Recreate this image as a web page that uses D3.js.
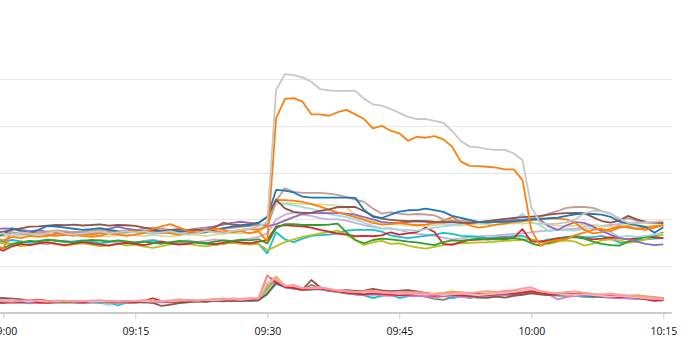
<!DOCTYPE html>
<html><head><meta charset="utf-8">
<script src="https://cdn.jsdelivr.net/npm/d3@7"></script>
<style>html,body{margin:0;padding:0;background:#fff;overflow:hidden}</style>
</head><body>
<svg id="chart" width="694" height="359"></svg>
<script>
// ---- data (one value per minute, 08:59 .. 10:15) ----
const firstMinute = "08:59";
const tickLabels = ["09:00","09:15","09:30","09:45","10:00","10:15"];
const gridValues = [20,40,60,80,100];

// upper group
const sBlue = [32.6,33.5,36.2,35.0,34.1,35.5,37.2,36.9,36.5,36.0,35.5,35.8,36.3,35.5,35.0,34.8,
 35.3,34.9,35.5,34.8,35.2,34.8,35.0,34.1,34.5,35.5,36.3,36.9,37.2,37.5,38.5,41.1,
 52.6,52.3,51.5,49.7,49.3,49.3,49.3,49.3,49.3,49.2,44.0,41.1,40.6,42.0,43.3,
 43.9,44.0,44.6,44.0,43.2,41.5,40.6,39.8,38.8,38.6,38.9,38.9,39.3,39.6,40.0,
 40.2,40.5,40.8,41.5,42.2,42.5,42.3,42.0,41.1,39.0,38.3,37.5,36.7,34.3,36.6];
const sOrangePeak = [32,31,32.5,32,33,32.5,33,34,33.5,33,34,33.5,34,34.5,34,35,
 35,34.5,36,37,38,36.5,35,34.5,35,36,35.5,34.5,35,34,35,30.5,
 83.2,91.5,91.8,90.3,84.9,84.9,84.3,85.8,86.8,84.9,82.9,78.9,80.0,77.9,76.8,
 73.6,75.3,74.9,75.6,74.2,71.1,64.7,62.9,62.8,62.5,62.1,61.4,61.4,56.8,35.5,
 28.8,30.5,31.2,31.6,33.3,34.3,35.5,36,35,36.5,37,36,35.5,36.5,37.6];
const sGrayPeak = [33.5,34.0,33.0,34.5,34.0,33.5,34.0,35.0,34.0,33.5,34.0,34.5,35.0,34.0,34.5,35.0,
 34.5,35.0,34.0,34.5,35.0,34.0,33.5,34.0,35.0,34.5,34.0,35.0,35.5,36.0,37.0,39.0,
 95.3,102.1,101.7,100.7,98.8,95.7,95.1,94.9,94.9,94.9,91.5,89.2,88.6,87.2,85.5,
 83.8,82.9,82.9,82.1,81.3,77.8,73.5,71.1,70.8,70.0,69.7,69.7,68.2,65.4,45.3,
 38.5,38.0,38.2,38.7,40.0,42.5,43.7,43.5,42.5,40.5,38.5,38.2,38.8,39.0,39.3];
const sOrange = [29.0,27.5,36.2,35.0,34.0,34.5,33.5,33.0,33.3,33.8,33.0,32.5,33.0,34.0,33.5,33.0,
 33.5,34.2,35.0,34.5,34.0,33.5,34.0,35.5,36.0,35.0,34.5,35.0,35.5,36.0,35.5,37.0,
 48.3,48.2,48.0,47.5,46.5,45.5,44.2,43.0,42.0,41.0,39.8,38.5,37.8,38.0,38.5,
 38.0,37.5,37.8,38.5,39.5,41.0,39.0,37.5,36.5,37.0,37.8,38.2,38.8,39.2,39.7,
 40.0,40.3,40.3,40.0,38.5,35.5,34.0,34.5,36.0,37.0,36.5,36.0,36.5,37.0,37.5];
const sGreen = [28.5,27.6,29.5,30.2,30.8,30.5,31.2,31.0,30.6,30.2,30.8,31.2,30.9,30.5,31.0,30.6,
 30.2,30.5,30.0,29.6,30.3,30.8,30.5,30.2,29.8,30.5,31.0,30.8,31.3,31.0,31.5,29.7,
 36.3,38.0,38.0,37.6,37.6,37.6,37.8,38.2,34.5,31.2,29.8,31.2,31.8,31.5,31.0,
 30.5,30.2,29.5,29.0,30.3,31.0,30.8,31.4,31.8,31.4,31.6,31.5,32.0,31.5,29.8,
 28.8,30.0,31.0,32.2,32.4,31.8,30.5,29.5,29.0,28.8,30.5,31.5,32.5,33.0,34.5];
const sRed = [28.0,26.6,28.5,29.5,29.0,29.8,30.2,29.5,29.0,29.6,30.3,29.8,29.2,28.8,29.5,30.0,
 29.5,29.0,29.8,30.5,29.8,29.2,29.6,30.3,29.9,29.4,30.0,30.6,30.2,29.8,30.5,31.0,
 37.0,37.6,37.2,37.0,36.5,35.5,34.8,33.9,33.5,32.8,33.0,32.8,33.2,34.5,33.5,
 34.0,34.6,36.5,34.6,29.5,29.1,30.3,31.2,31.4,31.6,31.8,32.0,32.0,35.8,30.5,
 30.5,31.0,31.8,32.3,32.5,32.0,31.5,31.8,32.3,32.0,31.5,32.0,32.8,32.3,32.0];
const sPurple = [35.5,36.2,36.0,35.5,35.0,35.3,34.8,34.5,34.2,34.6,34.0,34.3,35.0,36.0,36.9,36.0,
 35.5,35.0,34.8,34.3,34.8,35.2,35.5,36.0,36.5,37.0,37.8,38.5,39.0,38.5,38.0,37.0,
 38.0,39.5,41.0,42.3,42.7,42.7,42.7,42.7,42.5,42.0,41.0,40.0,38.9,38.5,38.5,
 38.9,39.2,39.0,38.6,38.6,38.8,38.5,38.3,38.8,39.2,39.3,39.5,39.7,39.9,40.0,
 39.8,37.0,35.5,37.5,38.8,38.5,37.0,35.0,33.5,32.0,31.5,30.5,29.5,29.0,29.3];
const sLightPurple = [31.5,30.5,29.5,30.0,30.8,29.8,29.2,30.5,31.0,30.2,29.6,30.4,31.2,30.8,30.0,29.5,
 30.2,30.8,31.3,30.6,30.0,30.5,31.0,30.4,30.8,31.5,31.0,30.5,31.2,31.8,32.5,34.0,
 40.0,42.0,43.0,42.0,41.5,40.5,40.0,40.0,39.5,38.5,37.5,36.8,36.0,36.3,35.5,
 34.5,33.8,33.5,33.0,32.2,31.5,31.8,32.5,32.7,33.0,33.2,33.5,33.8,34.0,34.5,
 35.0,35.2,35.5,35.8,36.0,36.8,37.5,37.2,37.6,38.0,38.4,38.7,38.5,38.3,38.6];
const sBrown = [34.2,34.8,35.5,36.2,36.9,37.0,37.3,37.6,37.5,37.8,37.4,37.6,37.9,37.3,37.6,37.5,
 37.2,36.5,35.8,35.0,35.5,35.8,35.4,35.6,35.2,36.5,38.6,37.8,37.5,38.0,38.6,41.0,
 48.5,44.7,43.2,42.8,42.9,43.6,44.3,45.2,45.3,45.3,43.5,41.5,40.3,39.8,39.5,
 39.2,39.4,39.3,39.0,38.9,38.8,38.6,38.5,38.8,39.3,39.8,40.2,40.6,41.0,41.2,
 41.5,42.0,42.5,42.7,42.8,42.7,41.0,39.3,38.6,39.5,41.5,40.0,38.9,38.7,38.4];
const sLightBrown = [33.0,33.8,34.5,34.0,33.5,34.2,34.8,35.3,35.0,34.5,34.8,35.2,35.6,35.0,34.6,35.0,
 35.4,36.0,36.5,36.0,35.5,35.0,35.3,35.8,36.2,35.7,36.0,36.4,36.8,37.2,37.5,38.0,
 48.0,53.3,51.8,51.3,51.3,51.3,51.0,50.5,49.5,48.5,47.5,44.6,42.5,43.1,42.5,
 42.0,42.3,42.1,41.7,40.0,39.6,39.4,39.2,39.0,38.9,38.9,38.9,39.4,39.7,40.2,
 41.0,42.5,43.6,44.9,45.3,45.3,44.9,43.5,42.5,40.0,40.5,39.5,39.0,38.5,38.3];
const sOlive = [29.5,30.0,29.2,28.6,29.0,29.8,30.2,29.5,28.8,29.3,29.9,29.2,28.5,29.0,29.6,28.8,
 29.2,28.4,27.8,28.6,29.3,29.8,29.4,28.9,28.5,29.1,29.6,30.0,29.5,29.2,29.5,26.9,
 28.5,30.3,31.5,32.5,33.3,34.0,34.6,35.2,33.5,31.2,29.1,30.2,30.8,29.5,29.8,
 28.8,28.0,27.5,28.3,29.0,29.5,29.8,30.0,30.2,30.2,30.5,30.8,31.0,31.2,31.5,
 30.5,29.5,30.5,31.0,30.5,28.8,29.5,31.0,31.5,31.0,30.0,30.5,31.5,32.5,33.5];
const sLightOlive = [32.5,33.0,32.6,33.2,33.5,33.0,32.6,33.1,33.6,33.2,32.8,33.4,33.0,32.7,33.3,33.6,
 33.2,32.8,33.4,33.0,32.6,33.2,33.7,33.3,32.9,33.5,33.8,34.2,34.0,34.3,34.5,38.0,
 46.5,47.0,46.8,46.6,46.5,46.4,46.2,45.8,45.2,41.7,40.0,39.2,38.5,38.0,37.8,
 37.5,37.2,37.2,37.6,38.0,37.7,37.4,37.8,38.2,38.0,37.7,38.1,38.4,38.2,38.5,
 38.2,37.8,37.3,37.0,37.4,37.8,37.5,37.1,36.8,37.2,37.6,37.3,37.0,37.4,37.5];
const sCyan = [31.0,30.5,31.2,30.6,30.0,30.8,31.4,30.9,30.2,30.6,31.0,30.4,29.8,30.3,30.9,30.2,
 29.8,30.4,30.9,30.3,29.7,30.2,30.6,30.0,29.5,29.0,29.6,30.1,29.8,29.5,29.5,25.5,
 34.5,31.5,30.3,31.8,33.0,33.3,33.5,34.0,35.2,35.5,35.5,35.5,34.8,33.2,32.5,
 32.0,32.5,33.0,33.5,34.2,33.8,33.0,32.8,32.5,32.0,32.3,32.6,32.8,33.0,31.5,
 30.5,31.5,32.0,32.5,32.8,32.5,32.4,33.0,32.0,30.0,30.3,31.0,31.5,31.8,32.0];
const sLightCyan = [33.8,34.5,34.0,33.5,34.2,33.8,33.2,33.6,34.1,33.7,33.3,33.9,34.4,34.0,33.6,34.2,
 34.6,34.1,33.7,34.3,34.8,34.3,33.9,34.5,35.0,34.6,34.2,34.8,35.3,35.6,36.0,37.0,
 47.4,46.5,46.0,45.3,44.5,43.5,42.3,41.6,41.0,40.0,38.5,37.2,36.3,36.0,35.5,
 35.5,35.2,35.8,36.5,37.0,37.5,38.0,38.5,38.8,39.0,39.3,39.5,39.8,42.3,39.0,
 37.5,35.0,35.5,35.3,35.2,35.8,36.3,35.5,34.7,32.5,33.0,32.5,33.0,33.5,34.0];

// lower group
const bLightRed = [5.2,5.0,4.9,5.3,5.6,5.1,4.8,5.4,5.2,4.9,5.0,5.3,5.5,5.1,4.8,5.0,
 5.2,5.6,5.3,5.0,5.4,5.8,5.5,5.2,5.7,6.0,5.8,6.2,6.0,6.3,6.4,15.8,
 14.2,11.5,12.0,10.5,10.8,11.0,10.2,9.6,9.2,9.0,9.3,9.5,9.1,8.8,9.0,
 8.7,8.9,8.5,8.2,8.4,8.6,8.8,8.5,8.9,9.3,9.0,9.4,9.8,10.5,11.0,
 9.4,8.8,8.5,8.9,9.2,8.6,8.2,8.0,8.3,7.8,7.5,7.2,6.9,6.6,6.4];
const bRed = [4.6,4.4,4.9,4.7,5.1,4.6,4.3,4.8,5.0,4.7,4.5,4.9,5.2,4.8,4.6,5.0,
 4.8,5.2,6.3,5.1,4.7,5.0,5.4,5.1,5.6,5.3,5.7,5.5,5.9,5.6,6.0,16.0,
 13.0,11.2,10.8,10.0,10.2,10.5,9.8,9.2,8.6,8.3,8.0,8.4,8.2,7.9,7.6,
 7.8,8.1,7.7,7.4,7.6,7.9,7.5,7.8,8.1,7.7,8.0,8.4,8.2,8.8,9.2,
 8.6,8.3,8.0,8.4,7.9,8.2,7.7,7.4,7.0,6.8,7.1,6.5,5.8,5.2,5.5];
const bOlive = [4.8,5.0,4.6,4.9,5.2,4.7,4.9,5.1,4.6,4.8,5.0,4.7,4.9,5.3,4.8,4.6,
 4.9,5.1,4.8,5.2,4.9,4.6,5.0,5.3,5.1,5.5,5.2,5.6,5.4,5.8,5.7,11.5,
 15.5,11.8,11.0,10.2,10.6,10.8,10.0,9.4,8.8,8.5,8.9,9.2,8.7,8.4,8.6,
 8.9,8.5,8.1,8.3,8.6,9.2,8.8,8.4,8.1,8.3,8.6,8.9,9.3,9.7,9.5,
 8.8,8.4,8.0,7.7,8.1,8.5,8.0,7.6,7.3,7.0,7.3,7.6,7.2,6.8,6.5];
const bCyan = [4.5,4.2,4.6,4.4,4.1,4.5,4.3,4.6,4.8,4.4,4.2,4.5,4.3,4.7,3.2,4.4,
 4.6,4.9,4.5,4.7,5.0,5.3,5.6,5.2,4.9,5.4,5.1,5.3,5.5,5.2,5.4,8.5,
 12.3,11.0,10.5,9.8,10.0,10.2,9.5,9.0,8.4,8.0,7.5,6.4,7.3,7.8,6.4,
 7.2,7.5,7.0,7.3,7.6,6.3,7.2,6.4,7.1,7.4,7.6,7.8,8.2,8.5,9.0,
 8.2,7.8,7.5,7.2,7.4,7.0,6.7,7.1,6.8,6.5,6.2,6.0,6.3,5.9,6.1];
const bLightGreen = [5.0,4.8,5.1,4.7,4.9,5.2,4.8,4.6,5.0,4.9,4.7,5.1,4.8,5.0,4.7,4.9,
 4.7,5.0,5.2,4.9,5.1,5.4,5.2,5.5,5.3,5.6,6.4,5.7,5.5,5.9,5.8,9.5,
 13.8,11.5,10.9,10.4,10.7,10.9,10.1,9.5,9.0,8.7,8.4,8.2,8.5,8.1,8.3,
 8.0,7.6,7.9,6.5,7.2,7.6,7.9,7.4,6.4,6.7,7.3,7.8,8.3,8.9,9.4,
 8.7,8.2,7.9,7.6,8.0,7.7,7.4,7.8,7.3,7.0,6.8,7.1,6.9,6.5,6.2];
const bBrown = [6.3,6.4,6.1,5.8,5.5,5.7,5.3,5.0,5.2,4.9,5.1,4.8,5.0,4.7,4.9,4.6,
 4.5,4.8,4.3,3.0,3.6,4.2,4.6,5.0,4.8,5.2,5.0,5.3,5.1,5.5,5.4,8.0,
 13.0,11.2,10.6,10.0,14.1,11.0,10.2,9.6,9.8,9.4,9.6,10.3,9.7,9.3,9.5,
 9.8,9.2,8.6,8.0,7.4,7.8,7.5,7.2,6.8,6.5,7.0,6.6,7.3,7.8,8.4,
 8.0,7.7,7.9,8.3,7.8,7.5,7.2,6.9,7.3,7.6,7.0,6.8,6.5,6.3,6.1];
const bGray = [6.0,6.2,5.9,5.6,5.3,5.1,4.9,5.2,5.0,4.8,5.1,4.9,4.7,5.0,4.8,5.1,
 4.9,4.6,4.4,4.8,4.5,4.9,5.1,4.9,5.3,5.1,5.4,5.2,5.6,5.4,5.7,10.0,
 14.0,11.0,10.4,9.9,12.0,10.6,9.9,9.3,8.9,8.6,8.8,9.0,8.6,8.3,8.0,
 7.7,7.4,7.0,6.0,5.6,6.8,7.2,7.6,6.2,7.0,7.3,7.6,7.9,8.4,8.9,
 8.3,8.0,7.6,7.9,7.5,7.1,7.4,6.9,6.6,6.9,6.5,6.2,6.4,6.0,5.8];
const bPink = [4.4,4.6,4.3,4.7,4.5,4.2,4.6,4.4,4.8,4.5,4.3,4.6,4.9,4.5,4.3,4.6,
 4.4,4.7,4.9,4.6,4.8,5.1,4.9,5.2,5.0,5.4,5.2,5.5,5.3,5.7,5.6,12.0,
 13.5,11.0,10.5,9.8,10.2,10.3,9.6,9.0,8.5,8.1,7.8,8.1,7.7,7.4,7.6,
 7.3,7.5,7.1,6.8,7.1,7.4,7.0,6.7,7.0,7.3,7.6,7.9,8.3,8.7,9.1,
 8.4,8.0,5.8,6.8,7.3,7.6,7.2,6.9,6.6,6.3,6.5,6.2,5.9,5.6,5.4];
const bLightPink = [5.5,5.3,5.6,5.2,5.0,5.4,5.1,4.9,5.3,5.0,5.2,4.8,5.1,4.9,5.2,5.0,
 5.3,5.1,4.9,5.2,5.0,5.3,5.5,5.3,5.6,5.4,5.7,5.9,5.6,6.0,6.2,13.0,
 14.8,11.8,11.5,10.6,10.5,10.9,10.3,9.7,9.3,9.0,8.8,9.1,8.7,8.5,8.2,
 8.4,8.1,7.8,8.0,7.7,8.0,8.3,8.0,7.7,8.0,8.3,8.6,9.0,9.6,10.2,
 9.2,8.7,8.3,8.0,7.7,8.0,7.6,7.3,7.0,7.3,7.0,6.7,6.3,6.0,5.9];
const bLightCyan = [4.3,4.5,4.2,4.6,4.4,4.7,4.5,4.3,4.6,4.4,4.2,4.5,4.3,3.4,4.2,4.4,
 4.6,4.4,4.7,4.5,4.9,5.2,5.5,5.1,5.4,5.2,5.5,5.3,5.6,5.4,5.5,9.0,
 13.0,11.2,10.6,10.1,10.3,10.0,9.4,8.9,8.3,7.9,7.6,7.3,7.7,7.2,7.5,
 7.8,7.3,7.6,7.2,7.5,7.1,7.4,7.7,7.3,7.6,7.9,7.5,7.8,8.2,8.6,
 7.9,7.6,7.3,7.5,7.2,6.9,7.2,6.8,6.5,6.8,6.6,6.3,6.5,6.2,6.0];
const bLightOrange = [4.9,5.1,4.8,5.0,4.7,4.9,5.2,4.8,5.0,4.7,4.9,5.1,4.8,5.0,4.7,4.9,
 5.1,4.8,5.0,4.7,5.0,4.8,5.1,5.4,5.2,5.5,5.3,5.6,5.4,5.7,5.6,10.5,
 14.5,11.6,11.2,10.3,10.4,10.7,10.0,9.3,8.7,8.4,8.7,8.9,8.5,8.2,8.4,
 8.1,8.3,7.9,7.6,7.9,8.2,7.8,7.5,7.8,8.1,8.4,8.0,8.5,9.0,9.6,
 8.9,8.5,8.1,7.8,8.2,7.9,7.5,7.2,7.5,7.2,6.9,7.2,6.8,6.4,6.2];
const bGreen = [4.6,4.8,4.5,4.9,4.6,4.4,4.8,4.6,4.3,4.7,4.5,4.8,4.6,4.4,4.7,4.5,
 4.8,4.6,4.9,4.7,5.0,4.8,5.2,5.0,5.3,5.1,5.4,5.2,5.5,5.3,5.5,9.0,
 13.2,11.0,10.6,9.9,10.1,10.4,9.7,9.1,8.6,8.2,8.0,7.8,8.1,7.8,7.5,
 7.7,7.4,7.8,7.5,7.2,7.5,7.8,7.4,7.1,7.4,7.7,7.9,8.1,8.6,9.0,
 8.3,7.9,7.6,7.3,7.6,7.3,7.0,7.4,7.1,6.8,7.1,6.7,6.4,6.6,6.3];
const bLightBlue = [4.7,4.5,4.8,4.6,4.9,4.7,4.5,4.8,4.6,4.9,4.7,4.4,4.7,4.5,4.8,4.6,
 4.9,4.7,4.5,4.8,4.6,4.9,5.1,4.9,5.2,5.0,5.3,5.1,5.4,5.2,5.4,9.5,
 13.4,11.3,10.7,10.0,10.3,10.1,9.6,9.0,8.6,8.3,8.0,8.3,7.9,7.6,7.9,
 7.6,7.9,7.5,7.8,7.4,7.7,7.4,7.1,7.4,7.7,7.4,7.7,8.0,8.4,8.8,
 8.1,7.8,7.4,7.7,7.3,7.0,7.3,7.0,6.7,7.0,6.7,6.4,6.7,6.3,6.1];
const bLightPurple = [5.1,4.9,5.2,5.0,4.8,5.1,4.9,5.2,5.0,4.8,5.1,4.9,5.2,4.9,5.1,4.8,
 5.0,4.8,5.1,4.9,5.2,5.0,5.3,5.1,5.4,5.2,5.5,5.3,5.6,5.4,5.6,10.0,
 13.6,11.4,10.8,10.2,10.4,10.6,9.9,9.3,8.8,8.5,8.2,8.5,8.1,7.8,8.1,
 7.8,8.1,7.7,7.4,7.7,8.0,7.6,7.3,7.6,7.9,7.6,7.9,8.2,8.7,9.2,
 8.5,8.1,7.8,7.5,7.8,7.4,7.1,7.5,7.2,6.9,7.2,6.8,6.5,6.7,6.4];

// drawing order (first drawn = bottom)
const series = [
  bLightBlue, bLightPurple, bGreen, bLightOrange, bLightCyan, bGray, bLightGreen,
  bCyan, bPink, bOlive, bBrown, bRed, bLightPink, bLightRed,
  sLightPurple, sCyan, sOlive, sRed, sGreen, sLightOlive, sLightCyan, sPurple,
  sOrange, sLightBrown, sBrown, sBlue, sOrangePeak, sGrayPeak
];
// ---- styles ----
const seriesColors = [
  "#aec7e8","#c5b0d5","#2ca02c","#ffbb78","#9edae5","#7f7f7f","#98df8a",
  "#17becf","#e377c2","#bcbd22","#8c564b","#d62728","#f7b6d2","#ff9896",
  "#c5b0d5","#17becf","#bcbd22","#d62728","#2ca02c","#dbdb8d","#9edae5","#9467bd",
  "#ff7f0e","#c49c94","#8c564b","#1f77b4","#ff7f0e","#c7c7c7"
];

const svg = d3.select("#chart");
const parse = d3.timeParse("%Y-%m-%d %H:%M");
const day = "2024-01-01 ";
const t0 = parse(day + firstMinute);
const times = d3.range(series[0].length).map(i => d3.timeMinute.offset(t0, i));
const tickDates = tickLabels.map(s => parse(day + s));

const x = d3.scaleTime().domain([tickDates[0], tickDates[tickDates.length-1]]).range([3.3, 663.3]);
const y = d3.scaleLinear().domain([0, 100]).range([313, 79]);
const plotRight = 671.7;

// grid
svg.append("g").selectAll("line").data(gridValues).join("line")
  .attr("x1", 0).attr("x2", plotRight)
  .attr("y1", d => Math.round(y(d)) + 0.5).attr("y2", d => Math.round(y(d)) + 0.5)
  .attr("stroke", "#e6e6e6").attr("stroke-width", 1);

// lines
const line = d3.line().x((d, i) => x(times[i])).y(d => y(d));
svg.append("g").selectAll("path").data(series).join("path")
  .attr("d", d => line(d))
  .attr("fill", "none")
  .attr("stroke", (d, i) => seriesColors[i])
  .attr("stroke-width", 1.8)
  .attr("stroke-linejoin", "round");

// x axis
const axis = d3.axisBottom(x).tickValues(tickDates).tickFormat(d3.timeFormat("%H:%M"))
  .tickSize(5).tickSizeOuter(0).tickPadding(9);
const gx = svg.append("g").attr("transform", "translate(0,314)").call(axis);
gx.select(".domain").remove();
gx.selectAll(".tick line").attr("stroke", "#cccccc");
gx.selectAll(".tick text").attr("fill", "#111").style("font-family", "'Open Sans', sans-serif").style("font-size", "10.5px");
svg.append("line").attr("x1", 0).attr("x2", plotRight).attr("y1", 313).attr("y2", 313)
  .attr("stroke", "#cccccc").attr("stroke-width", 2);
</script>
</body></html>
